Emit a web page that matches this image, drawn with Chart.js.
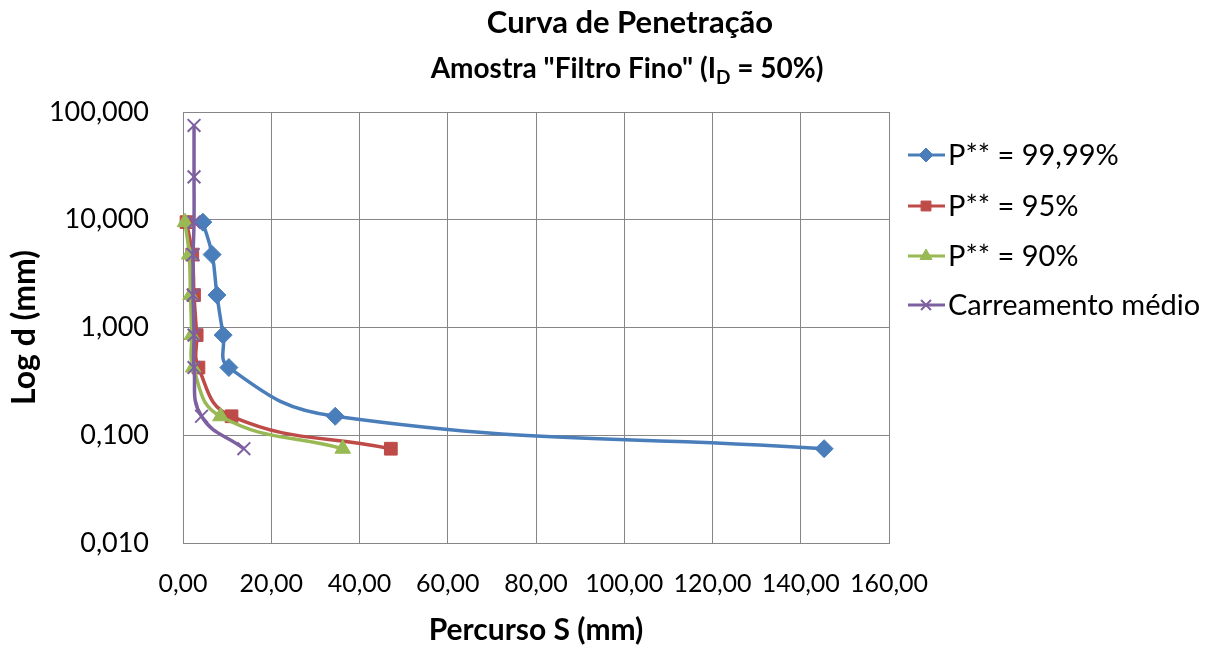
<!DOCTYPE html>
<html>
<head>
<meta charset="utf-8">
<script src="https://cdn.jsdelivr.net/npm/chart.js@4/dist/chart.umd.min.js"></script>
<style>
  html, body { margin: 0; padding: 0; background: #fff; }
  #wrap { width: 1227px; height: 651px; }
</style>
</head>
<body>
<div id="wrap"><canvas id="chart"></canvas></div>
<script>
/* =========================
   DATA
========================= */

// sieve openings (mm) for the three P** curves
const dSieve = [9.5, 4.75, 2.0, 0.85, 0.425, 0.15, 0.075];
// openings for the mean transport curve
const dMedio = [75, 25, 9.5, 4.75, 2.0, 0.85, 0.425, 0.15, 0.075];

// path S (mm)
const sP9999 = [4.5, 6.6, 7.7, 9.1, 10.4, 34.5, 145.3];
const sP95 = [0.8, 2.1, 2.5, 3.1, 3.5, 11.0, 47.1];
const sP90 = [0.45, 1.4, 1.7, 2.0, 2.3, 8.5, 36.2];
const sMedio = [2.5, 2.5, 2.5, 2.3, 2.3, 2.5, 2.5, 4.2, 13.8];

const seriesLabels = ['P** = 99,99%', 'P** = 95%', 'P** = 90%', 'Carreamento médio'];
const yTicks = [0.01, 0.1, 1, 10, 100];

const FONT = 'Lato, "Open Sans", sans-serif';

function pairs(xs, ys) {
  return xs.map((x, i) => ({ x: x, y: ys[i] }));
}

/* =========================
   TITLE + LEGEND PLUGIN
========================= */

const decorPlugin = {
  id: 'decor',
  afterDraw(chart) {
    const ctx = chart.ctx;
    ctx.save();
    ctx.fillStyle = '#000';
    ctx.textBaseline = 'middle';

    // main title
    ctx.textAlign = 'center';
    ctx.font = 'bold 31px ' + FONT;
    ctx.fillText('Curva de Penetração', 630, 23);

    // subtitle with subscript D
    const big = 'bold 28px ' + FONT;
    const small = 'bold 19px ' + FONT;
    const parts = [
      { t: 'Amostra "Filtro Fino" (I', f: big, dy: 0 },
      { t: 'D', f: small, dy: 9 },
      { t: ' = 50%)', f: big, dy: 0 }
    ];
    let total = 0;
    parts.forEach(p => { ctx.font = p.f; p.w = ctx.measureText(p.t).width; total += p.w; });
    let x = 627 - total / 2;
    ctx.textAlign = 'left';
    parts.forEach(p => {
      ctx.font = p.f;
      ctx.fillText(p.t, x, 69 + p.dy);
      x += p.w;
    });

    // legend
    const rows = [155, 206, 256, 305];
    chart.data.datasets.forEach((ds, i) => {
      const y = rows[i];
      ctx.strokeStyle = ds.borderColor;
      ctx.lineWidth = 3;
      ctx.beginPath();
      ctx.moveTo(908, y);
      ctx.lineTo(945, y);
      ctx.stroke();
      ctx.fillStyle = ds.pointBackgroundColor;
      ctx.strokeStyle = ds.pointBorderColor;
      ctx.lineWidth = ds.pointBorderWidth;
      Chart.helpers.drawPoint(ctx, {
        pointStyle: ds.pointStyle,
        radius: ds.pointRadius - 2,
        rotation: 0,
        borderWidth: ds.pointBorderWidth
      }, 926, y);
      ctx.fillStyle = '#000';
      ctx.font = '29px ' + FONT;
      ctx.textAlign = 'left';
      ctx.fillText(ds.label, 948, y + 1);
    });
    ctx.restore();
  }
};

/* =========================
   CHART
========================= */

function seriesStyle(color, style, radius, fillColor, bw) {
  return {
    borderColor: color,
    backgroundColor: color,
    borderWidth: 3.5,
    pointStyle: style,
    pointRadius: radius,
    pointHoverRadius: radius,
    pointBackgroundColor: fillColor,
    pointBorderColor: color,
    pointBorderWidth: bw,
    tension: 0.45,
    fill: false,
    clip: false
  };
}

const ctx = document.getElementById('chart').getContext('2d');

new Chart(ctx, {
  type: 'line',
  data: {
    datasets: [
      Object.assign({ label: seriesLabels[0], data: pairs(sP9999, dSieve), order: 4 },
        seriesStyle('#4A7EBB', 'rectRot', 9, '#4A7EBB', 1)),
      Object.assign({ label: seriesLabels[1], data: pairs(sP95, dSieve), order: 3 },
        seriesStyle('#BE4B48', 'rect', 9, '#BE4B48', 1)),
      Object.assign({ label: seriesLabels[2], data: pairs(sP90, dSieve), order: 2 },
        seriesStyle('#98B954', 'triangle', 9, '#98B954', 1)),
      Object.assign({ label: seriesLabels[3], data: pairs(sMedio, dMedio), order: 1 },
        seriesStyle('#7D60A0', 'crossRot', 9, '#7D60A0', 2))
    ]
  },
  options: {
    responsive: true,
    maintainAspectRatio: false,
    animation: false,
    layout: {
      padding: { left: 0, top: 112, right: 338, bottom: 0 }
    },
    scales: {
      x: {
        type: 'linear',
        min: 0,
        max: 160,
        afterFit(scale) { scale.height = 108; },
        afterBuildTicks(scale) {
          const t = [];
          for (let v = 0; v <= 160; v += 20) t.push({ value: v });
          scale.ticks = t;
        },
        ticks: {
          autoSkip: false,
          maxRotation: 0,
          padding: 26,
          color: '#000',
          font: { size: 25, family: FONT },
          callback: v => v.toFixed(2).replace('.', ',')
        },
        grid: { color: '#868686', lineWidth: 1, drawTicks: false },
        border: { color: '#868686', width: 1 },
        title: {
          display: true,
          text: 'Percurso S (mm)',
          color: '#000',
          font: { size: 30, weight: 'bold', family: FONT },
          padding: { top: 4, bottom: 3 }
        }
      },
      y: {
        type: 'logarithmic',
        min: 0.01,
        max: 100,
        afterFit(scale) { scale.width = 183; },
        afterBuildTicks(scale) {
          scale.ticks = yTicks.map(v => ({ value: v, major: true }));
        },
        ticks: {
          autoSkip: false,
          padding: 34,
          color: '#000',
          font: { size: 27, family: FONT },
          callback: v => Number(v).toFixed(3).replace('.', ',')
        },
        grid: { color: '#868686', lineWidth: 1, drawTicks: false },
        border: { color: '#868686', width: 1 },
        title: {
          display: true,
          text: 'Log d (mm)',
          color: '#000',
          font: { size: 32, weight: 'bold', family: FONT },
          padding: { top: 5, bottom: 0 }
        }
      }
    },
    plugins: {
      legend: { display: false },
      title: { display: false },
      tooltip: { enabled: false }
    }
  },
  plugins: [decorPlugin]
});
</script>
</body>
</html>
